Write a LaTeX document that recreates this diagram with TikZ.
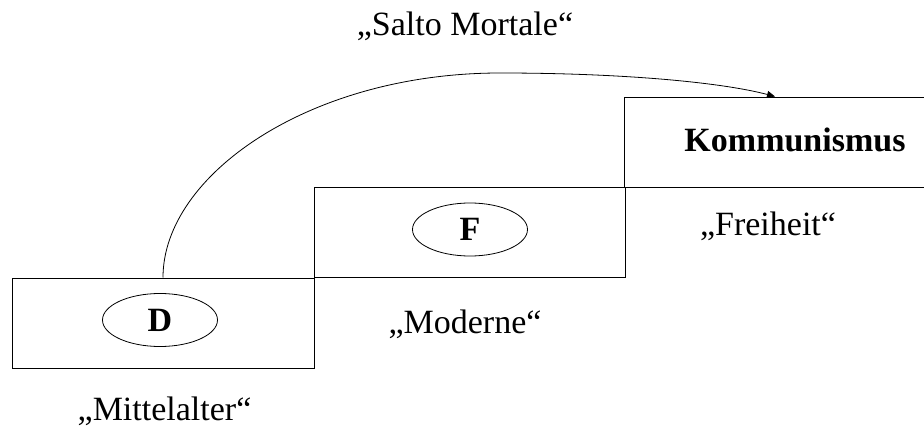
\documentclass[tikz,border=0pt]{standalone}
\usepackage{fontspec}
\setmainfont{Liberation Serif}
\usetikzlibrary{arrows.meta,shapes.geometric}
\begin{document}
\begin{tikzpicture}[x=1pt,y=-1pt,
  lbl/.style={font=\fontsize{34}{40}\selectfont, anchor=base, inner sep=0pt},
  stepbox/.style={draw, line width=1pt, rectangle, inner sep=0pt, minimum height=90pt},
  oval/.style={draw, line width=0.8pt, ellipse, inner sep=0pt, minimum width=115pt, minimum height=53pt, font=\fontsize{34}{40}\selectfont\bfseries},
  jump/.style={line width=0.8pt, -{Triangle[length=8pt,width=7pt]}}]
\useasboundingbox (0,0) rectangle (924,428);
\clip (0,0) rectangle (924,428);
% stair boxes
\node[stepbox, minimum width=302pt] (b1) at (163,323) {};
\node[stepbox, minimum width=311pt] (b2) at (469.5,232.5) {};
\node[stepbox, minimum width=302pt] (b3) at (775,142) {};
% ovals
\node[oval] (d) at (160,320) {D};
\node[oval] (f) at (470,229.5) {F};
% labels
\node[lbl] (salto) at (465,36) {„Salto Mortale“};
\node[lbl, font=\fontsize{34}{40}\selectfont\bfseries] (komm) at (795,151) {Kommunismus};
\node[lbl] (frei) at (768,235) {„Freiheit“};
\node[lbl] (mod) at (465,333) {„Moderne“};
\node[lbl] (mitt) at (164.5,420) {„Mittelalter“};
% jump
\coordinate (peak) at (500,73);
\draw[jump] (b1.north) .. controls (163,175) and (310,73) .. (peak)
  .. controls (620,73) and (720,82) .. (b3.north);
\end{tikzpicture}
\end{document}
